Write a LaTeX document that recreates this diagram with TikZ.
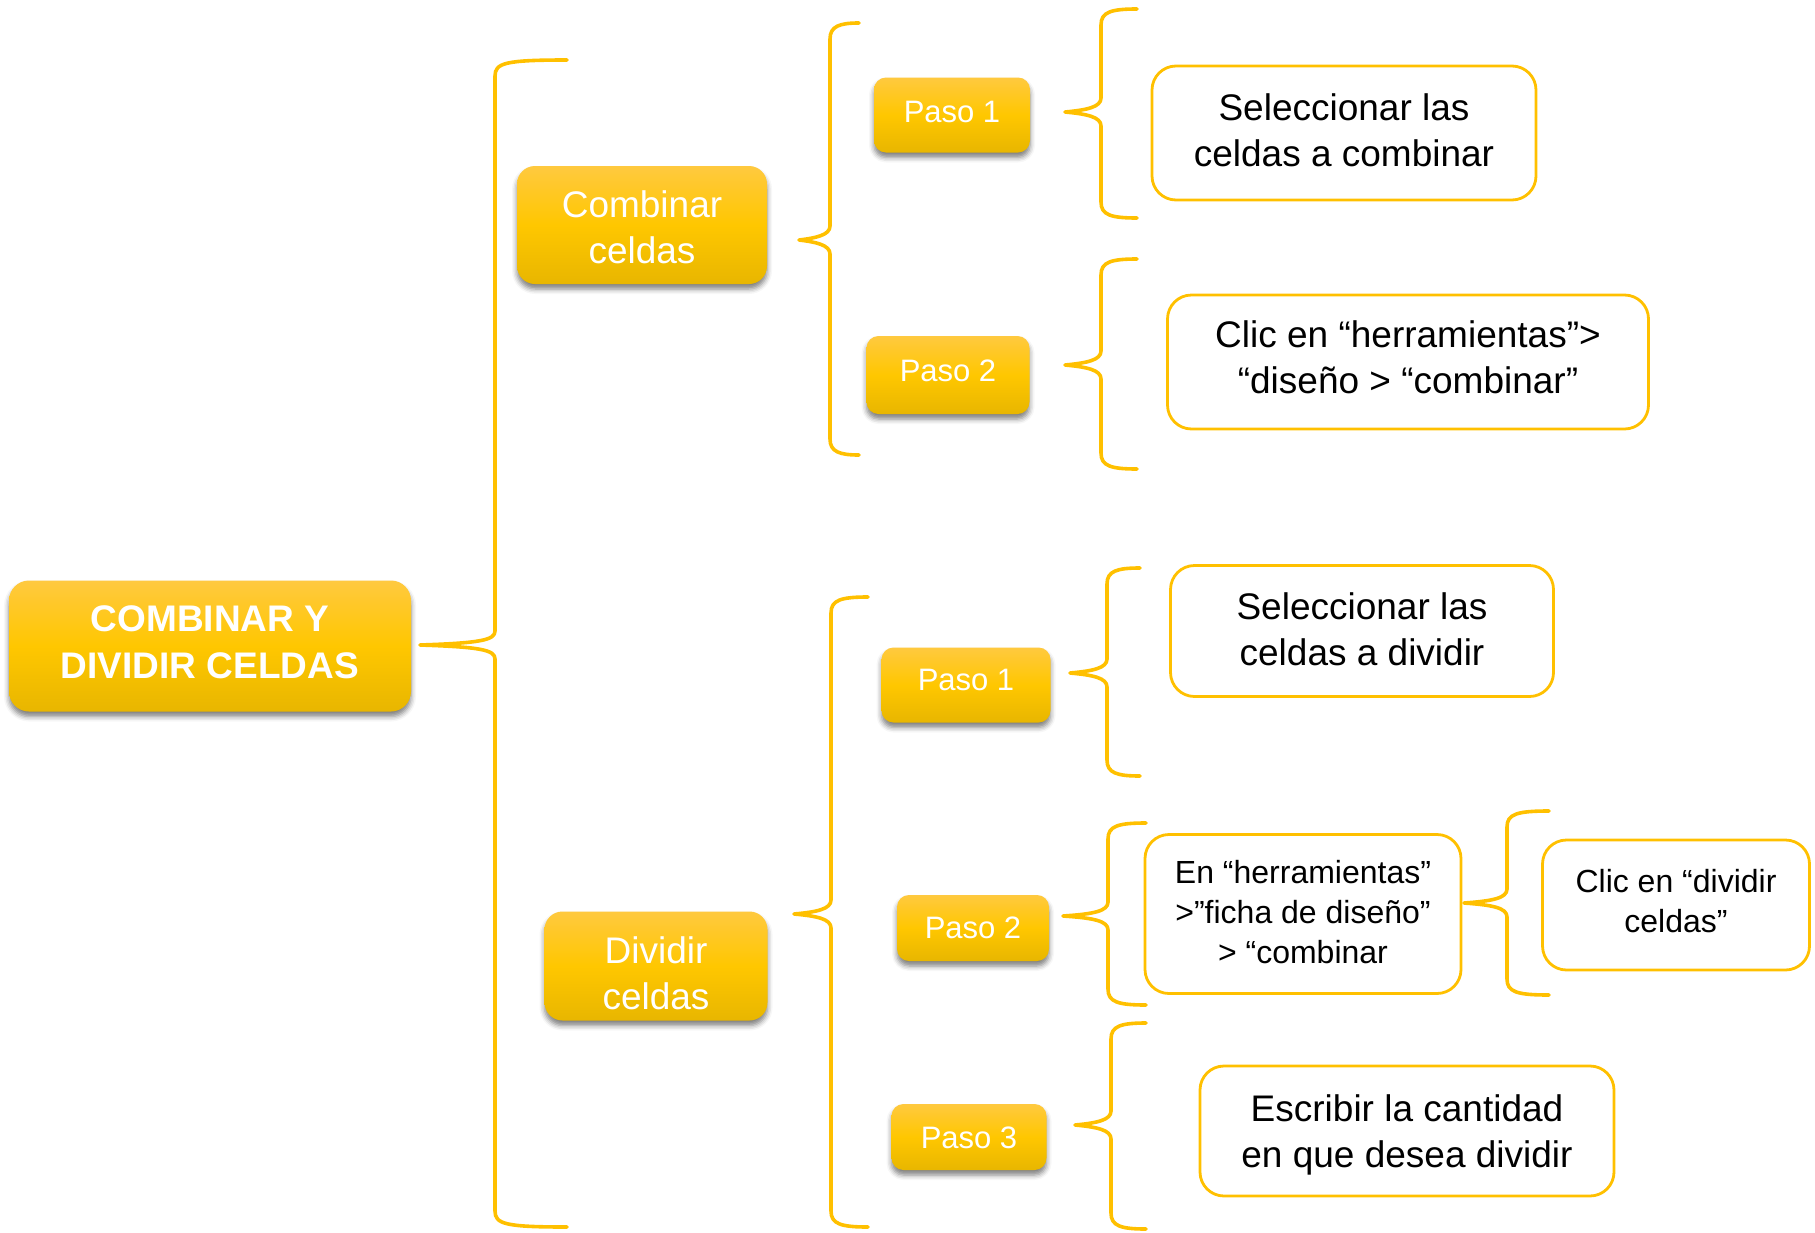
\documentclass[tikz,border=0pt]{standalone}
\usepackage{fontspec}
\setmainfont{Liberation Sans}
\usetikzlibrary{shadows.blur}
\definecolor{gold}{HTML}{FFC000}
\definecolor{gtop}{HTML}{FFC93F}
\definecolor{gmid}{HTML}{FFC700}
\definecolor{gbot}{HTML}{E8B600}
\tikzset{
 ybox/.style={rounded corners=#1, top color=gtop, bottom color=gbot, middle color=gmid, draw=none, text=white, align=center, inner sep=0pt,
   blur shadow={shadow xshift=0pt, shadow yshift=-2.5pt, shadow blur radius=2.5pt, shadow opacity=50}},
 ybox/.default=6pt,
 wbox/.style={rounded corners=12pt, draw=gold, line width=1.4pt, fill=white, align=center, inner sep=0pt, text=black},
 brc/.style={draw=gold, line width=1.8pt, line join=round, line cap=round},
 fbig/.style={font=\fontsize{18.5pt}{23pt}\selectfont},
 fsmall/.style={font=\fontsize{16pt}{20pt}\selectfont},
 fpaso/.style={font=\fontsize{15.5pt}{19pt}\selectfont},
 th/.style 2 args={text height=#1pt, text depth=#2pt},
}
% tipx, midy, vx, topy, boty, endx
\newcommand\brcpath[6]{%
\draw[brc] (#6,#4) .. controls (#3+10,#4) and (#3,#4+3) .. (#3,#4+16) -- (#3,#2-14)
 .. controls (#3,#2-5) and (#3-14,#2-2) .. (#1,#2)
 .. controls (#3-14,#2+2) and (#3,#2+5) .. (#3,#2+14) -- (#3,#5-16)
 .. controls (#3,#5-3) and (#3+10,#5) .. (#6,#5);}
\begin{document}
\begin{tikzpicture}[x=0.5pt,y=-0.5pt]
\useasboundingbox (0,0) rectangle (1815,1232);
% main
\node[ybox=10pt, th={32.0}{0}, minimum width=201pt, minimum height=65.5pt, font=\bfseries\fontsize{18.5pt}{23.3pt}\selectfont] (main) at (210,646) {COMBINAR Y\\DIVIDIR CELDAS};
\node[ybox=9pt, fbig, th={38.8}{0}, minimum width=125pt, minimum height=59pt] (comb) at (642,225) {Combinar\\celdas};
\node[ybox=9pt, fbig, th={43.4}{0}, minimum width=111.5pt, minimum height=54.5pt] (div) at (656,966) {Dividir\\celdas};
% pasos
\node[ybox, fpaso, th={11.1}{3.5}, minimum width=78pt, minimum height=37.5pt] (p1a) at (952,115) {Paso 1};
\node[ybox, fpaso, th={11.1}{4.6}, minimum width=81.5pt, minimum height=39pt] (p2a) at (948,375) {Paso 2};
\node[ybox, fpaso, th={11.1}{5.8}, minimum width=84.5pt, minimum height=37.5pt] (p1b) at (966,685) {Paso 1};
\node[ybox, fpaso, th={11.1}{0.3}, minimum width=76pt, minimum height=33pt] (p2b) at (973,928) {Paso 2};
\node[ybox, fpaso, th={11.1}{0}, minimum width=77.5pt, minimum height=33pt] (p3b) at (969,1137) {Paso 3};
% text boxes
\node[wbox, fbig, th={33.0}{0}, minimum width=192pt, minimum height=67pt] (t1) at (1344,133) {Seleccionar las\\celdas a combinar};
\node[wbox, fbig, th={31.9}{0}, minimum width=240.5pt, minimum height=67pt] (t2) at (1408,362) {Clic en “herramientas”>\\“diseño > “combinar”};
\node[wbox, fbig, th={34.2}{0}, minimum width=191.5pt, minimum height=65.5pt] (t3) at (1362,631) {Seleccionar las\\celdas a dividir};
\node[wbox, fsmall, th={49.4}{0}, minimum width=158pt, minimum height=79.5pt] (t4) at (1303,914) {En “herramientas”\\>”ficha de diseño”\\> “combinar};
\node[wbox, fsmall, th={27.1}{0}, minimum width=133.5pt, minimum height=65pt] (t5) at (1676,905) {Clic en “dividir\\celdas”};
\node[wbox, fbig, th={36.1}{0}, minimum width=207pt, minimum height=65pt] (t6) at (1407,1131) {Escribir la cantidad\\en que desea dividir};
% braces
\brcpath{420}{645}{495}{60}{1227}{567}
\brcpath{799}{240}{830}{23}{455}{859}
\brcpath{794}{914}{831}{597}{1227}{868}
\brcpath{1065}{112}{1101}{9}{218}{1137}
\brcpath{1065}{365}{1101}{259}{469}{1137}
\brcpath{1070}{673}{1107}{568}{776}{1140}
\brcpath{1063}{916}{1108}{823}{1005}{1146}
\brcpath{1075}{1125}{1111}{1023}{1229}{1146}
\brcpath{1464}{903}{1507}{811}{995}{1549}
\end{tikzpicture}
\end{document}
